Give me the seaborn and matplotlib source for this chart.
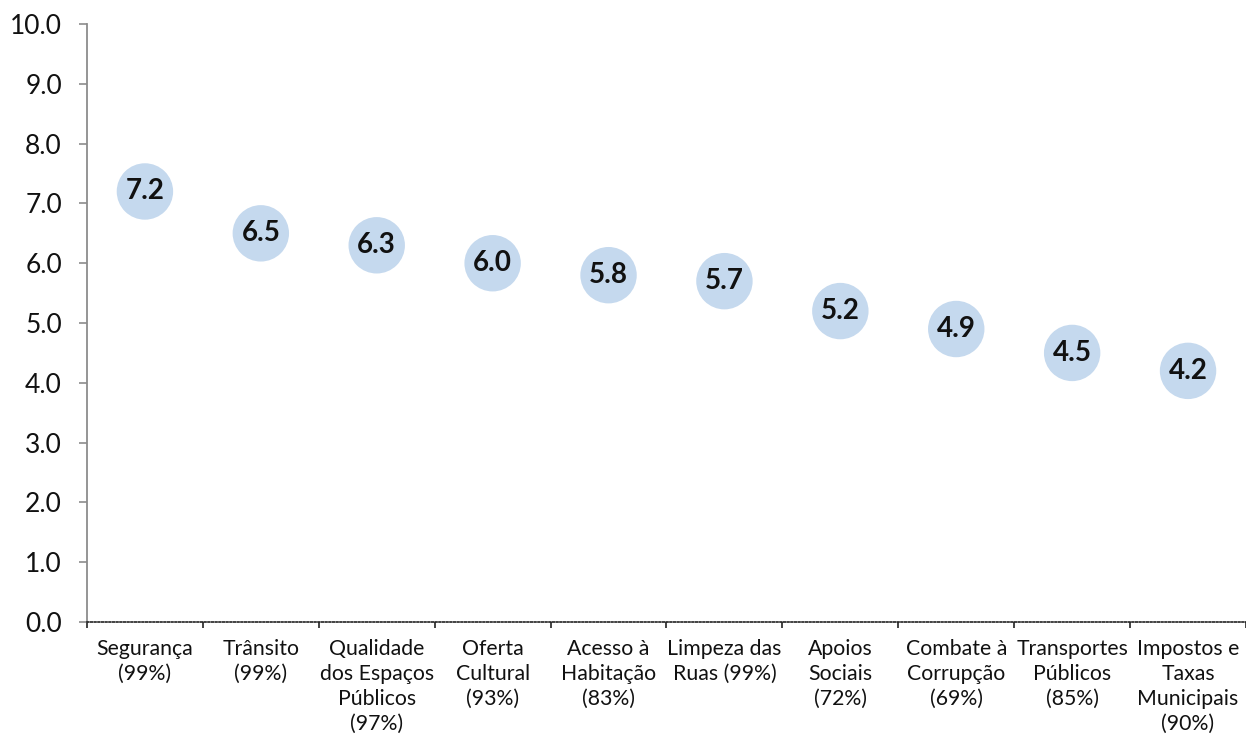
import matplotlib
matplotlib.use("Agg")
import matplotlib.pyplot as plt
import seaborn as sns
import pandas as pd
import numpy as np
from matplotlib.ticker import FixedLocator, MultipleLocator, FormatStrFormatter

categories = ["Segurança", "Trânsito", "Qualidade\ndos Espaços\nPúblicos", "Oferta\nCultural",
              "Acesso à\nHabitação", "Limpeza das\nRuas", "Apoios\nSociais",
              "Combate à\nCorrupção", "Transportes\nPúblicos", "Impostos e\nTaxas\nMunicipais"]
percentages = ["99%", "99%", "97%", "93%", "83%", "99%", "72%", "69%", "85%", "90%"]
values = [7.2, 6.5, 6.3, 6.0, 5.8, 5.7, 5.2, 4.9, 4.5, 4.2]

labels = []
for c, p in zip(categories, percentages):
    if c == "Limpeza das\nRuas":
        labels.append(f"{c} ({p})")
    else:
        labels.append(f"{c}\n({p})")

df = pd.DataFrame({"label": labels, "value": values})

sns.set_theme(style="white")
plt.rcParams["font.family"] = ["Lato", "DejaVu Sans"]

fig = plt.figure(figsize=(12.46, 7.35), dpi=100)
ax = fig.add_axes([0.0698, 0.1537, 0.9302, 0.8136])

sns.scatterplot(data=df, x="label", y="value", ax=ax, s=1650, color="#c5d9ee",
                edgecolor="none", linewidth=0, legend=False, zorder=3)

for i, v in enumerate(values):
    ax.text(i, v, f"{v:.1f}", ha="center", va="center", fontsize=20,
            fontweight="bold", color="#111111", zorder=4)

ax.set_xlim(-0.5, len(values) - 0.5)
ax.set_ylim(0, 10)
ax.yaxis.set_major_locator(MultipleLocator(1))
ax.yaxis.set_major_formatter(FormatStrFormatter("%.1f"))
ax.set_xlabel("")
ax.set_ylabel("")

ax.set_xticks(range(len(labels)))
ax.set_xticklabels(labels, fontsize=15.3, color="#111111", linespacing=1.32)
ax.xaxis.set_minor_locator(FixedLocator(np.arange(-0.5, len(values), 1.0)))
ax.tick_params(axis="x", which="major", length=0, pad=12)
ax.tick_params(axis="x", which="minor", length=4, width=1.2, color="#222222", direction="out", bottom=True)
ax.tick_params(axis="y", which="major", length=6, width=1.2, color="#8c8c8c", left=True,
               labelsize=19, labelcolor="#111111", pad=12)

for s in ["top", "right"]:
    ax.spines[s].set_visible(False)
ax.spines["left"].set_color("#8c8c8c")
ax.spines["left"].set_linewidth(1.3)
ax.spines["bottom"].set_color("#222222")
ax.spines["bottom"].set_linestyle((0, (1, 1.2)))
ax.spines["bottom"].set_linewidth(1.2)
ax.spines["bottom"].set_zorder(5)

fig.savefig("out.png", dpi=100)
